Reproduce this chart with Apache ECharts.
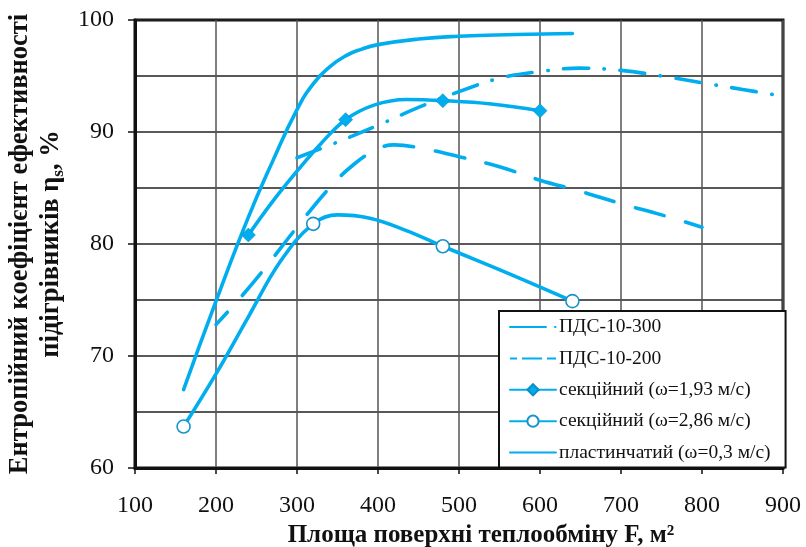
<!DOCTYPE html>
<html>
<head>
<meta charset="utf-8">
<script src="https://cdn.jsdelivr.net/npm/echarts@6/dist/echarts.min.js"></script>
<style>
  html, body { margin: 0; padding: 0; background: #fff; }
  #chart { width: 806px; height: 547px; }
</style>
</head>
<body>
<div id="chart"></div>
<script>
// Heat-exchange surface area F, m² versus entropy efficiency coefficient, %
const seriesNames = [
  'ПДС-10-300',
  'ПДС-10-200',
  'секційний (ω=1,93 м/с)',
  'секційний (ω=2,86 м/с)',
  'пластинчатий (ω=0,3 м/с)'
];

const pds300 = [[300,87.7],[350,89.1],[400,90.6],[450,92.2],[500,93.6],[550,94.8],[600,95.4],
  [650,95.7],[700,95.5],[750,95.0],[800,94.4],[850,93.8],[900,93.2]];

const pds200 = [[200,72.8],[230,75.2],[260,77.8],[300,81.5],[340,85.0],[370,87.1],[400,88.5],
  [420,88.85],[450,88.6],[500,87.8],[550,86.9],[600,85.7],[650,84.7],[700,83.6],[750,82.6],[800,81.5]];

const sect193 = [[240,80.8],[270,83.8],[300,86.5],[330,89.0],[360,91.1],[395,92.4],[435,92.9],
  [480,92.8],[540,92.5],[600,91.9]];
const sect193Marked = [240, 360, 480, 600];

const sect286 = [[160,63.7],[200,68.4],[240,73.5],[280,78.5],[320,81.8],[350,82.6],[390,82.3],
  [435,81.2],[480,79.8],[560,77.4],[640,74.9]];
const sect286Marked = [160, 320, 480, 640];

const plate = [[160,67.0],[200,74.9],[240,82.4],[270,87.4],[300,92.0],[320,94.3],[340,95.8],
  [360,96.8],[380,97.4],[400,97.8],[450,98.3],[500,98.55],[570,98.7],[640,98.8]];

const xMin = 100, xMax = 900, xStep = 100;
const yMin = 60, yMax = 100, yStep = 10;

const BLUE = '#00AEEF';
const FONT = 'Liberation Serif';

function withMarkers(points, marked) {
  return points.map(p => marked.includes(p[0]) ? { value: p } : { value: p, symbol: 'none' });
}

const chart = echarts.init(document.getElementById('chart'), null, { renderer: 'canvas' });

const baseLine = { color: BLUE, width: 3.6, cap: 'round', join: 'round' };
const noMarker = { opacity: 0 };

chart.setOption({
  backgroundColor: '#fff',
  animation: false,
  grid: {
    left: 135, right: 23, top: 20, bottom: 79,
    outerBoundsMode: 'none', containLabel: false,
    show: true, borderColor: '#111', borderWidth: 3, backgroundColor: 'transparent'
  },
  xAxis: {
    type: 'value', min: xMin, max: xMax, interval: xStep,
    name: 'Площа поверхні теплообміну F, м²',
    nameLocation: 'middle', nameGap: 48,
    nameTextStyle: { fontFamily: FONT, fontWeight: 'bold', fontSize: 25, color: '#111',
                     padding: [0, 0, 0, 44] },
    axisLine: { show: true, onZero: false, lineStyle: { color: '#111', width: 3 } },
    axisTick: { show: true, inside: false, length: 6, lineStyle: { color: '#111', width: 1.5 } },
    axisLabel: { fontFamily: FONT, fontSize: 24, color: '#111', margin: 26 },
    splitLine: { show: true, lineStyle: { color: '#555', width: 1.5 } }
  },
  yAxis: {
    type: 'value', min: yMin, max: yMax, interval: yStep,
    name: '{b|Ентропійний коефіцієнт ефективності}\n{b|підігрівників η}{s|s}{b|, %}',
    nameLocation: 'middle', nameGap: 65, nameRotate: 90,
    nameTextStyle: {
      rich: {
        b: { fontFamily: FONT, fontWeight: 'bold', fontSize: 26.5, color: '#111', lineHeight: 31 },
        s: { fontFamily: FONT, fontWeight: 'bold', fontSize: 17, color: '#111', lineHeight: 31,
             verticalAlign: 'bottom' }
      }
    },
    axisLine: { show: true, onZero: false, lineStyle: { color: '#111', width: 3 } },
    axisTick: { show: true, inside: false, length: 7, lineStyle: { color: '#111', width: 1.5 } },
    axisLabel: { fontFamily: FONT, fontSize: 24, color: '#111', margin: 21 },
    splitLine: { show: true, lineStyle: { color: '#222', width: 1.5 } },
    minorTick: { show: false, splitNumber: 2 },
    minorSplitLine: { show: true, lineStyle: { color: '#222', width: 1.5 } }
  },
  legend: {
    orient: 'vertical',
    left: 499, top: 311,
    backgroundColor: '#fff',
    borderColor: '#111', borderWidth: 2,
    padding: [6, 15, 5, 10],
    itemWidth: 46, itemHeight: 14, itemGap: 11.4,
    selectedMode: false,
    textStyle: { fontFamily: FONT, fontSize: 19.5, color: '#111', lineHeight: 20, padding: [0, 0, 0, -2] },
    data: [
      { name: seriesNames[0], itemStyle: noMarker, lineStyle: { type: [36, 9, 0.5, 20] } },
      { name: seriesNames[1], itemStyle: noMarker, lineStyle: { type: [20, 5], cap: 'butt' } },
      { name: seriesNames[2] },
      { name: seriesNames[3] },
      { name: seriesNames[4], itemStyle: noMarker }
    ]
  },
  series: [
    {
      name: seriesNames[0], type: 'line', data: pds300, smooth: 0.4,
      symbol: 'none', clip: true,
      lineStyle: Object.assign({}, baseLine, { type: [25, 15.5, 0.5, 15.5] }),
      itemStyle: { color: BLUE }
    },
    {
      name: seriesNames[1], type: 'line', data: pds200, smooth: 0.4,
      symbol: 'none', clip: true,
      lineStyle: Object.assign({}, baseLine, { type: [30, 22], dashOffset: 13 }),
      itemStyle: { color: BLUE }
    },
    {
      name: seriesNames[2], type: 'line', data: withMarkers(sect193, sect193Marked), smooth: 0.4,
      symbol: 'diamond', symbolSize: 14, showAllSymbol: true,
      lineStyle: baseLine,
      itemStyle: { color: BLUE, borderColor: '#0a8fc4', borderWidth: 0.6 }
    },
    {
      name: seriesNames[3], type: 'line', data: withMarkers(sect286, sect286Marked), smooth: 0.4,
      symbol: 'circle', symbolSize: 13, showAllSymbol: true,
      lineStyle: baseLine,
      itemStyle: { color: '#fff', borderColor: '#1593cc', borderWidth: 1.6 }
    },
    {
      name: seriesNames[4], type: 'line', data: plate, smooth: 0.5,
      symbol: 'none',
      lineStyle: baseLine,
      itemStyle: { color: BLUE }
    }
  ]
});
</script>
</body>
</html>
